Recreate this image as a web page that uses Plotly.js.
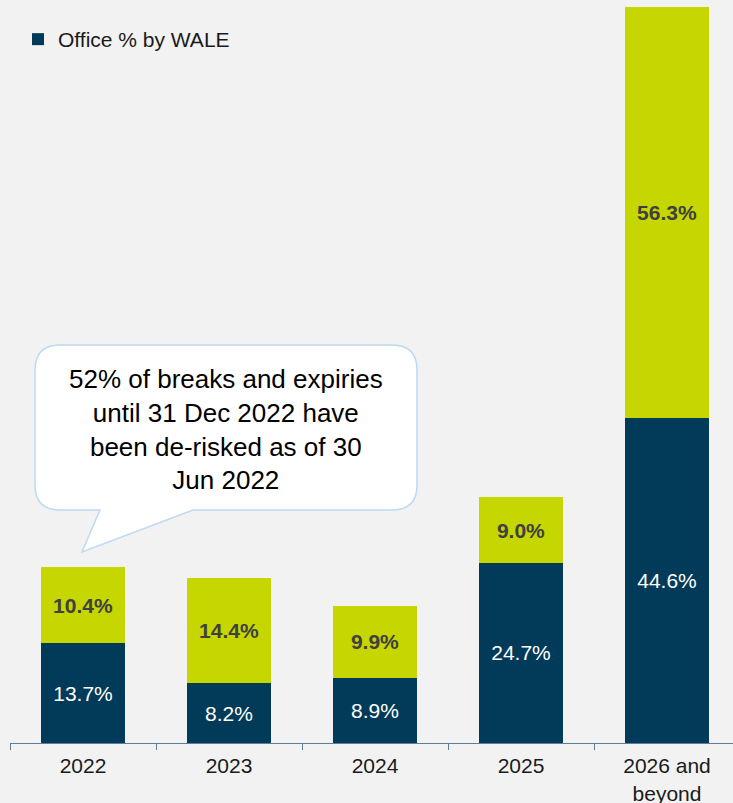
<!DOCTYPE html>
<html>
<head>
<meta charset="utf-8">
<script src="https://cdn.plot.ly/plotly-3.0.1.min.js"></script>
<style>
html,body{margin:0;padding:0;background:#F2F2F2;}
#chart{width:733px;height:803px;}
</style>
</head>
<body>
<div id="chart"></div>
<script>
var categories = ["2022", "2023", "2024", "2025", "2026 and<br>beyond"];
var officeValues = [13.7, 8.2, 8.9, 24.7, 44.6];
var otherValues = [10.4, 14.4, 9.9, 9.0, 56.3];
var calloutText = "52% of breaks and expiries<br>until 31 Dec 2022 have<br>been de-risked as of 30<br>Jun 2022";

var FONT = "Liberation Sans, Arial, sans-serif";
var W = 733, H = 803;
var mL = 10, mR = 0, mT = 7, mB = 60;
var pw = W - mL - mR, ph = H - mT - mB;
function px(x){ return ((x - mL) / pw).toFixed(5); }
function py(y){ return ((H - mB - y) / ph).toFixed(5); }

// callout bubble outline (pixel geometry converted to paper coords)
var x0 = 35, x1 = 417, y0 = 345, y1 = 510, r = 25;
var pts = [
  ["M", x0 + r, y0], ["L", x1 - r, y0], ["Q", x1, y0, x1, y0 + r],
  ["L", x1, y1 - r], ["Q", x1, y1, x1 - r, y1],
  ["L", 193, y1], ["L", 82, 552], ["L", 100, y1],
  ["L", x0 + r, y1], ["Q", x0, y1, x0, y1 - r],
  ["L", x0, y0 + r], ["Q", x0, y0, x0 + r, y0]
];
var path = pts.map(function(p){
  var s = p[0];
  for (var i = 1; i < p.length; i += 2) s += " " + px(p[i]) + "," + py(p[i + 1]);
  return s;
}).join(" ") + " Z";

var traces = [
  {
    type: "bar", name: "Office % by WALE", x: categories, y: officeValues,
    marker: {color: "#023B59", line: {width: 0}},
    width: 0.57,
    texttemplate: "%{y:.1f}%", textposition: "inside", insidetextanchor: "middle",
    textangle: 0, constraintext: "none",
    insidetextfont: {family: FONT, size: 21, color: "#FFFFFF"},
    showlegend: true, hoverinfo: "skip"
  },
  {
    type: "bar", name: "Other", x: categories, y: otherValues,
    marker: {color: "#C5D600", line: {width: 0}},
    width: 0.57,
    texttemplate: "<b>%{y:.1f}%</b>", textposition: "inside", insidetextanchor: "middle",
    textangle: 0, constraintext: "none",
    insidetextfont: {family: FONT, size: 21, color: "#404040"},
    showlegend: false, hoverinfo: "skip"
  }
];

var layout = {
  width: W, height: H,
  margin: {l: mL, r: mR, t: mT, b: mB, pad: 0},
  paper_bgcolor: "#F2F2F2", plot_bgcolor: "#F2F2F2",
  barmode: "stack",
  font: {family: FONT, size: 21, color: "#1a1a1a"},
  showlegend: true,
  legend: {
    x: px(18), y: py(19), xanchor: "left", yanchor: "top",
    bgcolor: "rgba(0,0,0,0)", font: {family: FONT, size: 21, color: "#1a1a1a"},
    itemclick: false, itemdoubleclick: false
  },
  xaxis: {
    type: "category", range: [-0.5, 4.452],
    showline: true, linecolor: "#5B7F99", linewidth: 1,
    ticks: "outside", tickson: "boundaries", ticklen: 6, tickcolor: "#5B7F99", tickwidth: 1,
    ticklabelstandoff: 4,
    showgrid: false, zeroline: false,
    tickfont: {family: FONT, size: 21, color: "#1a1a1a"},
    fixedrange: true
  },
  yaxis: {
    range: [0, 100.9], visible: false, showgrid: false, zeroline: false, fixedrange: true
  },
  shapes: [
    {type: "path", xref: "paper", yref: "paper", path: path,
     fillcolor: "#FFFFFF", line: {color: "#BDD9F3", width: 1.5}, layer: "above"}
  ],
  annotations: [
    {xref: "paper", yref: "paper", x: px(226), y: py(429), xanchor: "center", yanchor: "middle",
     text: calloutText, showarrow: false, align: "center",
     font: {family: FONT, size: 26, color: "#000000"}}
  ],
  hovermode: false
};

Plotly.newPlot("chart", traces, layout, {displayModeBar: false, staticPlot: true});
</script>
</body>
</html>
